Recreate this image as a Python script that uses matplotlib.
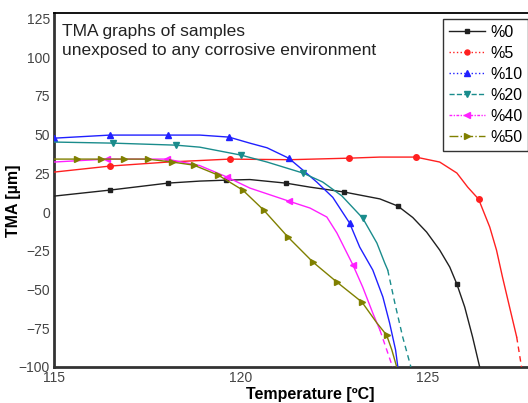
import numpy as np
from matplotlib import pyplot as plt
from matplotlib.lines import Line2D

plt.rcParams['font.family'] = ['Liberation Sans', 'DejaVu Sans']

# TMA curves, temperature in degC and displacement in um
t_0 = [115.0, 116.5, 118.05, 118.9, 119.6, 120.24, 121.2, 121.85, 122.75, 123.72,
       124.2, 124.6, 124.97, 125.32, 125.59, 125.78, 125.99, 126.2, 126.39]
y_0 = [10.3, 14.2, 18.7, 20.0, 20.6, 21.0, 18.7, 16.1, 13.0, 8.5,
       3.9, -3.5, -12.9, -24.5, -35.5, -46.5, -61.3, -80.6, -100]
mk_0 = [1, 2, 4, 6, 8, 10, 15]

t_5 = [115.0, 116.5, 118.05, 119.7, 121.3, 122.9, 123.72, 124.68, 125.32, 125.78,
       126.07, 126.36, 126.66, 126.84, 127.0, 127.19, 127.38, 127.51]
y_5 = [25.8, 29.7, 32.3, 34.2, 33.8, 34.8, 35.5, 35.5, 32.3, 25.2,
       16.1, 8.4, -9.7, -24.5, -41.9, -61.3, -80.6, -100]
mk_5 = [1, 3, 5, 7, 11]

t_10 = [115.0, 116.5, 118.05, 118.9, 119.68, 120.24, 120.7, 121.28, 121.66, 122.03,
        122.46, 122.91, 123.18, 123.53, 123.8, 123.98, 124.14, 124.2]
y_10 = [47.7, 49.7, 49.7, 49.7, 48.4, 44.5, 41.5, 34.8, 27.1, 19.4,
        9.5, -7.1, -22.6, -37.4, -54.8, -71.6, -89.0, -100]
mk_10 = [0, 1, 2, 4, 7, 11]

t_20 = [115.0, 116.58, 118.26, 118.9, 120.0, 120.7, 121.66, 122.19, 122.7, 123.26,
        123.64, 123.85, 123.93, 124.12, 124.33, 124.55]
y_20 = [45.2, 44.5, 43.2, 41.9, 36.8, 32.3, 25.2, 19.4, 10.5, -3.9,
        -20.0, -32.9, -37.4, -58.7, -80.6, -100]
mk_20 = [1, 2, 4, 6, 9]

t_40 = [115.0, 116.42, 118.02, 118.9, 119.63, 120.24, 121.28, 121.85, 122.3, 122.57,
        123.0, 123.26, 123.53, 123.72, 124.06]
y_40 = [32.3, 34.2, 34.2, 30.0, 22.6, 15.5, 7.1, 2.6, -3.2, -13.5,
        -34.2, -48.4, -65.2, -76.1, -100]
mk_40 = [1, 2, 4, 6, 10]

t_50 = [115.0, 115.61, 116.26, 116.87, 117.51, 118.16, 118.74, 119.39, 120.05, 120.61,
        121.26, 121.93, 122.57, 123.24, 123.64, 123.9, 124.04, 124.17]
y_50 = [34.2, 34.2, 34.2, 34.2, 34.2, 32.3, 30.3, 23.9, 14.2, 1.3,
        -16.1, -32.3, -45.2, -58.1, -71.6, -79.4, -89.0, -100]
mk_50 = list(range(1, 14)) + [15]

labels = ['%0', '%5', '%10', '%20', '%40', '%50']
temps = [t_0, t_5, t_10, t_20, t_40, t_50]
tmas = [y_0, y_5, y_10, y_20, y_40, y_50]
marks = [mk_0, mk_5, mk_10, mk_20, mk_40, mk_50]
tail_from = [None, 16, None, 12, 13, None]   # dashed end of the trace

colors = ['#202020', '#ff2020', '#2020ff', '#1a8c8c', '#ff20ff', '#808000']
markers = ['s', 'o', '^', 'v', '<', '>']
msizes = [3.5, 4, 5, 5, 5, 4.5]
legend_ls = ['-', ':', ':', '--', (0, (2, 1, 1, 1)), '-.']

fig = plt.figure(figsize=(5.28, 4.03), dpi=100)
ax = fig.add_axes([54 / 528, 36 / 403, 512 / 528, 354 / 403])

for t, y, mk, tf, c, m, ms in zip(temps, tmas, marks, tail_from, colors, markers, msizes):
    t = np.array(t)
    y = np.array(y)
    end = len(t) if tf is None else tf + 1
    ax.plot(t[:end], y[:end], color=c, lw=1.0, marker=m, ms=ms, markevery=mk, zorder=3)
    if tf is not None:
        ax.plot(t[tf:], y[tf:], color=c, lw=1.0, ls=(0, (4, 3)), zorder=3)

ax.set_xlim(115, 128.7)
ax.set_ylim(-100, 128.5)
ax.set_xticks([115, 120, 125])
ax.set_yticks(np.arange(-100, 126, 25))
ax.tick_params(length=0, labelsize=10, labelcolor='#444444', pad=3)

for s in ['left', 'bottom']:
    ax.spines[s].set_linewidth(2.0)
    ax.spines[s].set_color('#333333')
ax.spines['top'].set_linewidth(1.3)
ax.spines['right'].set_visible(False)

ax.set_xlabel('Temperature [ºC]', fontsize=11.5, fontweight='bold', labelpad=1)
ax.set_ylabel('TMA [µm]', fontsize=11.5, fontweight='bold')
ax.yaxis.set_label_coords(-0.065, 0.47)

fig.text(62 / 528, 1 - 24 / 403, 'TMA graphs of samples\nunexposed to any corrosive environment',
         fontsize=12.5, va='top', ha='left', linespacing=1.3, color='#222222')

handles = [Line2D([], [], color=c, lw=1.0, ls=ls, marker=m, ms=ms * 0.9)
           for c, ls, m, ms in zip(colors, legend_ls, markers, msizes)]
leg = fig.legend(handles, labels, loc='upper left', bbox_to_anchor=(443 / 528, 1 - 19 / 403),
                 fontsize=11.5, frameon=True, fancybox=False, handlelength=2.3,
                 labelspacing=0.38, borderpad=0.35, handletextpad=0.3, borderaxespad=0)
leg.get_frame().set_edgecolor('black')
leg.get_frame().set_linewidth(1.0)

fig.savefig('out.png', dpi=100)
